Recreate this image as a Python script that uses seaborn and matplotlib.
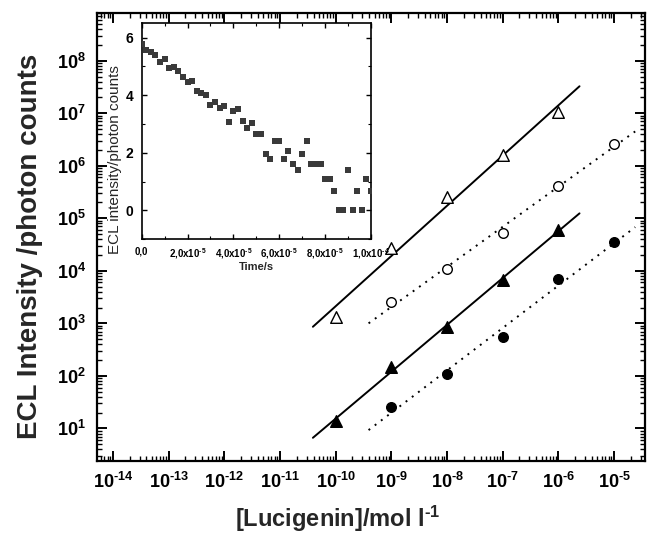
import numpy as np
import pandas as pd
import matplotlib
matplotlib.use("Agg")
import matplotlib.pyplot as plt
import matplotlib.ticker as mticker
import seaborn as sns

# ---------------- data ----------------
conc_a = [1e-10, 1e-9, 1e-8, 1e-7, 1e-6]          # triangles
conc_b = [1e-9, 1e-8, 1e-7, 1e-6, 1e-5]           # circles
open_tri = [1330, 2.7e4, 2.6e5, 1.6e6, 1.04e7]
open_circ = [2.5e3, 1.07e4, 5.3e4, 4.2e5, 2.6e6]
filled_tri = [14, 148, 860, 6.7e3, 6.0e4]
filled_circ = [26, 107, 540, 6.9e3, 3.5e4]
fit_span_a = [3.9e-11, 2.4e-6]
fit_span_b = [3.9e-10, 2.4e-5]

main_xticks = [1e-14, 1e-13, 1e-12, 1e-11, 1e-10, 1e-9, 1e-8, 1e-7, 1e-6, 1e-5]
main_yticks = [1e1, 1e2, 1e3, 1e4, 1e5, 1e6, 1e7, 1e8]

time_us = [0, 2, 4, 6, 8, 10, 12, 14, 16, 18, 20, 22, 24, 26, 28, 30, 32, 34,
           36, 38, 40, 42, 44, 46, 48, 50, 52, 54, 56, 58, 60, 62, 64, 66, 68,
           70, 72, 74, 76, 78, 80, 82, 84, 86, 88, 90, 92, 94, 96, 98, 100]
ecl_ln = [5.79, 5.56, 5.50, 5.40, 5.17, 5.25, 4.95, 4.99, 4.83, 4.65, 4.47,
          4.49, 4.15, 4.09, 4.00, 3.67, 3.75, 3.55, 3.64, 3.08, 3.44, 3.53,
          3.11, 2.86, 3.02, 2.67, 2.67, 1.95, 1.79, 2.40, 2.40, 1.79, 2.08,
          1.61, 1.39, 1.95, 2.40, 1.61, 1.61, 1.61, 1.10, 1.10, 0.69, 0.0,
          0.0, 1.39, 0.0, 0.69, 0.0, 1.10, 0.69]
inset_xticks = [0, 2e-5, 4e-5, 6e-5, 8e-5, 1e-4]
inset_xticklabels = ["0,0", r"2,0x10$^{\text{-}5}$", r"4,0x10$^{\text{-}5}$",
                     r"6,0x10$^{\text{-}5}$", r"8,0x10$^{\text{-}5}$",
                     r"1,0x10$^{\text{-}4}$"]
inset_yticks = [0, 2, 4, 6]

# ---------------- style ----------------
sns.set_theme(style="ticks")
plt.rcParams["font.family"] = ["Liberation Sans", "DejaVu Sans"]
plt.rcParams["font.weight"] = "bold"
plt.rcParams["mathtext.fontset"] = "custom"
plt.rcParams["mathtext.rm"] = "Liberation Sans:bold"
plt.rcParams["mathtext.bf"] = "Liberation Sans:bold"
plt.rcParams["mathtext.it"] = "Liberation Sans:bold:italic"
plt.rcParams["mathtext.default"] = "rm"
plt.rcParams["axes.unicode_minus"] = False

fig = plt.figure(figsize=(6.47, 5.34), dpi=100)
ax = fig.add_axes([0.1499, 0.1367, 0.847, 0.839])
ax.set_xscale("log")
ax.set_yscale("log")

def fit_line(xs, ys, span):
    p = np.polyfit(np.log10(xs), np.log10(ys), 1)
    lx = np.log10(np.array(span))
    return 10 ** lx, 10 ** np.polyval(p, lx)

for xs, ys, span, ls in [(conc_a, open_tri, fit_span_a, "-"),
                         (conc_b, open_circ, fit_span_b, (0, (1, 3))),
                         (conc_a, filled_tri, fit_span_a, "-"),
                         (conc_b, filled_circ, fit_span_b, (0, (1, 3)))]:
    fx, fy = fit_line(xs, ys, span)
    sns.lineplot(x=fx, y=fy, ax=ax, color="black", linewidth=1.4,
                 linestyle=ls, zorder=2)

sns.scatterplot(x=conc_a, y=open_tri, ax=ax, marker="^", s=70, color="white",
                edgecolor="black", linewidth=1.0, zorder=3)
sns.scatterplot(x=conc_b, y=open_circ, ax=ax, marker="o", s=48, color="white",
                edgecolor="black", linewidth=1.0, zorder=3)
sns.scatterplot(x=conc_a, y=filled_tri, ax=ax, marker="^", s=70, color="black",
                edgecolor="black", linewidth=1.0, zorder=3)
sns.scatterplot(x=conc_b, y=filled_circ, ax=ax, marker="o", s=48, color="black",
                edgecolor="black", linewidth=1.0, zorder=3)

ax.set_xlim(5.16e-15, 3.6e-5)
ax.set_ylim(2.4, 8.1e8)
ax.xaxis.set_major_locator(mticker.FixedLocator(main_xticks))
ax.yaxis.set_major_locator(mticker.FixedLocator(main_yticks))
ax.xaxis.set_minor_locator(mticker.LogLocator(base=10, subs=np.arange(2, 10) * 1.0, numticks=200))
ax.yaxis.set_minor_locator(mticker.LogLocator(base=10, subs=np.arange(2, 10) * 1.0, numticks=200))

def log_label(v, p):
    e = int(round(np.log10(v)))
    if e < 0:
        return r"10$^{\text{-}%d}$" % (-e)
    return r"10$^{%d}$" % e

fmt = mticker.FuncFormatter(log_label)
ax.xaxis.set_major_formatter(fmt)
ax.yaxis.set_major_formatter(fmt)
ax.xaxis.set_minor_formatter(mticker.NullFormatter())
ax.yaxis.set_minor_formatter(mticker.NullFormatter())
ax.tick_params(which="both", direction="in", top=True, right=True, colors="black")
ax.tick_params(which="major", length=7, width=1.4, labelsize=13, pad=8)
ax.tick_params(which="minor", length=3.5, width=1.0)
for s in ax.spines.values():
    s.set_linewidth(1.6)
    s.set_color("black")

ax.set_xlabel(r"[Lucigenin]/mol l$^{\text{-}1}$", fontsize=17, fontweight="bold")
ax.set_ylabel("ECL Intensity /photon counts", fontsize=20, fontweight="bold")
ax.xaxis.set_label_coords(0.44, -0.096)
ax.yaxis.set_label_coords(-0.098, 0.48)

# ---------------- inset ----------------
ax_in = fig.add_axes([0.219, 0.552, 0.3544, 0.4045])
df_in = pd.DataFrame({"t": np.array(time_us) * 1e-6, "ln": ecl_ln})
sns.scatterplot(data=df_in, x="t", y="ln", ax=ax_in, marker="s", s=14,
                color="#3a3a3a", linewidth=0, zorder=3)
ax_in.set_xlim(0, 1e-4)
ax_in.set_ylim(-1, 6.5)
ax_in.xaxis.set_major_locator(mticker.FixedLocator(inset_xticks))
ax_in.xaxis.set_major_formatter(mticker.FixedFormatter(inset_xticklabels))
ax_in.xaxis.set_minor_locator(mticker.MultipleLocator(1e-5))
ax_in.yaxis.set_major_locator(mticker.FixedLocator(inset_yticks))
ax_in.yaxis.set_minor_locator(mticker.MultipleLocator(1))
ax_in.tick_params(which="both", direction="in", top=True, right=True, colors="black")
ax_in.tick_params(which="major", length=3.5, width=1.0)
ax_in.tick_params(which="minor", length=2.5, width=0.8)
ax_in.tick_params(axis="x", labelsize=7, pad=5)
ax_in.tick_params(axis="y", labelsize=10, pad=6)
for s in ax_in.spines.values():
    s.set_linewidth(1.2)
    s.set_color("black")
ax_in.set_xlabel("Time/s", fontsize=8, fontweight="bold", labelpad=1)
ax_in.set_ylabel("ECL intensity/photon counts", fontsize=11, fontweight="normal")
ax_in.yaxis.set_label_coords(-0.085, 0.37)

fig.savefig("out.png", dpi=100)
